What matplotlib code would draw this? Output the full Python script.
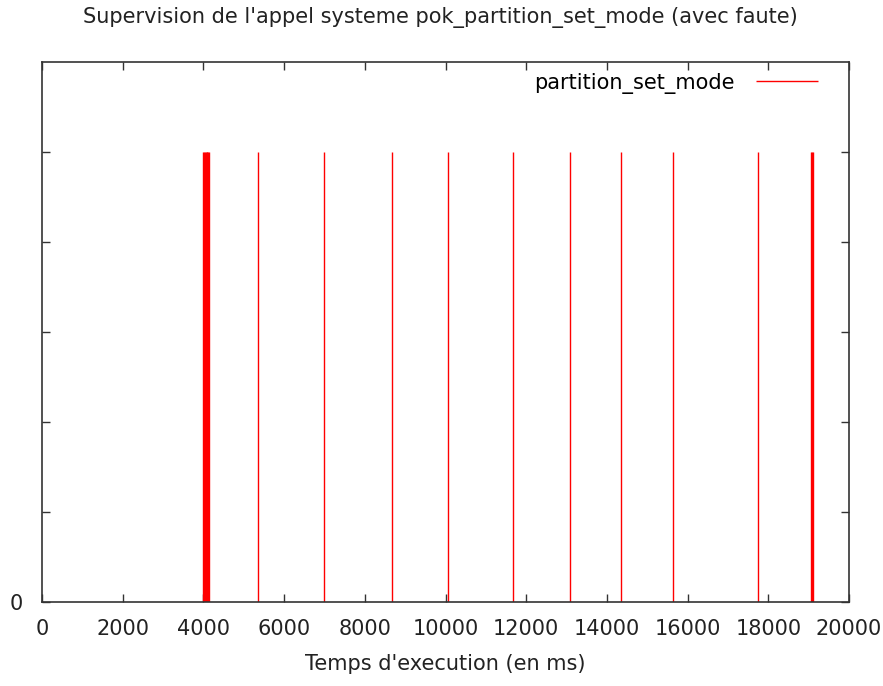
import matplotlib
matplotlib.use("Agg")
import matplotlib.pyplot as plt
import numpy as np

# impulse times (ms); clustered ones form the thick bars
call_times = [4000, 4020, 4040, 4060, 4080, 4100, 4120, 4140,
              5346, 6981, 8682, 10054, 11681, 13086, 14349, 15646, 17753,
              19050, 19075, 19100]
call_values = [1.0] * len(call_times)

x_ticks = [0, 2000, 4000, 6000, 8000, 10000, 12000, 14000, 16000, 18000, 20000]
y_ticks = [0, 0.2, 0.4, 0.6, 0.8, 1.0]
y_tick_labels = ["0", "", "", "", "", ""]

plt.rcParams["font.family"] = ["DejaVu Sans"]
FS = 15

fig = plt.figure(figsize=(8.83, 6.86), dpi=100)
ax = fig.add_axes([42 / 883, 84 / 686, 807 / 883, 540 / 686])

ax.vlines(call_times, 0, call_values, colors="#ff0000", linewidth=1.0,
          label="partition_set_mode")

ax.set_xlim(0, 20000)
ax.set_ylim(0, 1.2)
ax.set_xticks(x_ticks)
ax.set_yticks(y_ticks)
ax.set_yticklabels(y_tick_labels)
ax.tick_params(direction="in", top=True, right=True, length=6, width=1,
               color="#333333", labelsize=FS, labelcolor="#222222")
ax.tick_params(axis="x", pad=12)
ax.tick_params(axis="y", pad=14)
for s in ax.spines.values():
    s.set_color("#333333")
    s.set_linewidth(1.2)

ax.set_xlabel("Temps d'execution (en ms)", fontsize=FS, color="#222222", labelpad=11)
fig.text(440 / 883, 1 - 18 / 686,
         "Supervision de l'appel systeme pok_partition_set_mode (avec faute)",
         ha="center", va="center", fontsize=FS, color="#222222")

ax.legend(loc="upper right", frameon=False, fontsize=FS, markerfirst=False,
          handlelength=3.0, handletextpad=1.0, borderaxespad=0.5,
          bbox_to_anchor=(0.985, 1.015))

fig.savefig("out.png", dpi=100)
